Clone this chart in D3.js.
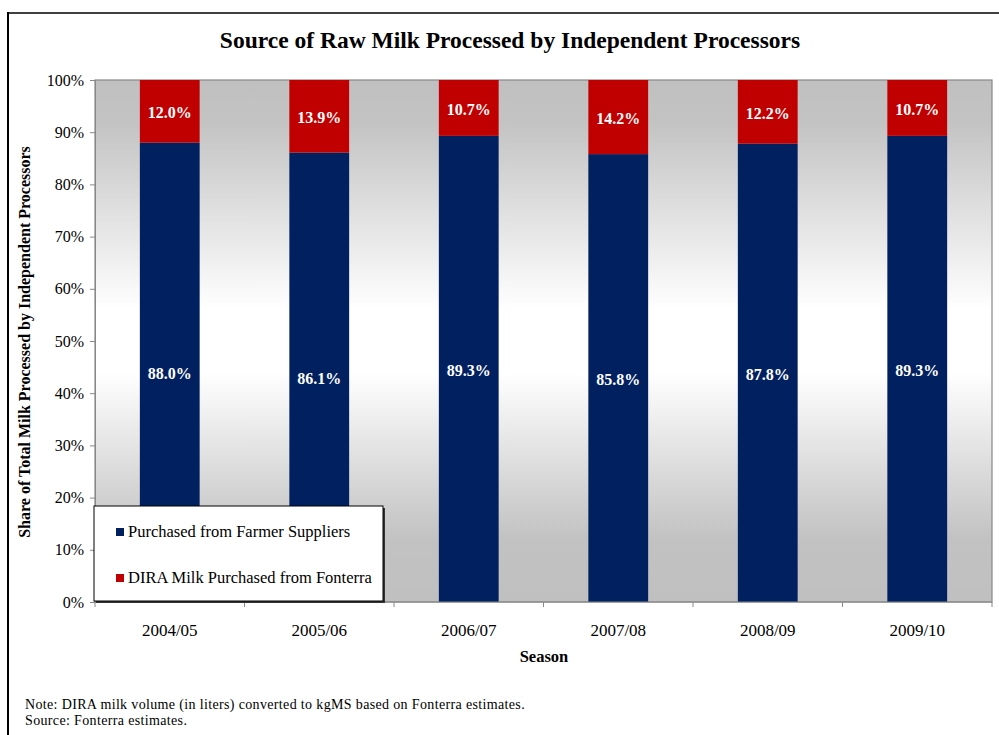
<!DOCTYPE html>
<html>
<head>
<meta charset="utf-8">
<script src="https://cdn.jsdelivr.net/npm/d3@7"></script>
<style>
  html, body { margin: 0; padding: 0; background: #fff; }
  svg { display: block; }
  svg text { font-family: "Liberation Serif", serif; }
</style>
</head>
<body>
<svg id="chart" width="999" height="735"></svg>
<script>
// Seasons and the two sources of milk (percent of total processed)
const seasons = ["2004/05", "2005/06", "2006/07", "2007/08", "2008/09", "2009/10"];
const farmerSuppliers = [88.0, 86.1, 89.3, 85.8, 87.8, 89.3];
const fonterraDira = [12.0, 13.9, 10.7, 14.2, 12.2, 10.7];
const seriesNames = ["Purchased from Farmer Suppliers", "DIRA Milk Purchased from Fonterra"];
const seriesColors = ["#002060", "#c00000"];
const yTicks = [0, 10, 20, 30, 40, 50, 60, 70, 80, 90, 100];

const svg = d3.select("#chart");
const W = 999, H = 735;
const plot = { left: 95, top: 80, right: 992, bottom: 602 };

// Outer frame
svg.append("line").attr("x1", 8).attr("x2", 999).attr("y1", 13).attr("y2", 13)
  .attr("stroke", "#404040").attr("stroke-width", 2);
svg.append("line").attr("x1", 8).attr("x2", 8).attr("y1", 12).attr("y2", H)
  .attr("stroke", "#000").attr("stroke-width", 2);

// Title
svg.append("text").attr("x", 510).attr("y", 48).attr("text-anchor", "middle")
  .attr("font-size", 23.5).attr("font-weight", "bold").text("Source of Raw Milk Processed by Independent Processors");

// Background gradient of the plot area
const defs = svg.append("defs");
const grad = defs.append("linearGradient").attr("id", "bg").attr("x1", 0).attr("y1", 0).attr("x2", 0).attr("y2", 1);
[[0, "#c0c0c0"], [0.08, "#c3c3c3"], [0.44, "#ffffff"], [0.56, "#ffffff"], [0.88, "#c2c2c2"], [1, "#c0c0c0"]]
  .forEach(([o, c]) => grad.append("stop").attr("offset", o).attr("stop-color", c));

const x = d3.scaleBand().domain(seasons).range([plot.left, plot.right]).paddingInner(0.6).paddingOuter(0.3);
const band = d3.scaleBand().domain(seasons).range([plot.left, plot.right]);
const y = d3.scaleLinear().domain([0, 100]).range([plot.bottom, plot.top]);

svg.append("rect").attr("x", plot.left).attr("y", plot.top)
  .attr("width", plot.right - plot.left).attr("height", plot.bottom - plot.top)
  .attr("fill", "url(#bg)").attr("stroke", "#888").attr("stroke-width", 1.2);

// Stacked bars
const rows = seasons.map((s, i) => ({ season: s, farmer: farmerSuppliers[i], dira: fonterraDira[i] }));
const stack = d3.stack().keys(["farmer", "dira"])(rows);

stack.forEach((layer, li) => {
  svg.append("g").selectAll("rect").data(layer).join("rect")
    .attr("x", d => x(d.data.season))
    .attr("width", x.bandwidth())
    .attr("y", d => y(Math.min(d[1], 100)))
    .attr("height", d => y(d[0]) - y(Math.min(d[1], 100)))
    .attr("fill", seriesColors[li]);
  svg.append("g").selectAll("text").data(layer).join("text")
    .attr("x", d => x(d.data.season) + x.bandwidth() / 2)
    .attr("y", d => y((d[0] + Math.min(d[1], 100)) / 2) + 7)
    .attr("text-anchor", "middle").attr("fill", "#fff")
    .attr("font-size", 16).attr("font-weight", "bold")
    .text(d => (d[1] - d[0]).toFixed(1) + "%");
});

// Y axis
const yAxis = svg.append("g").attr("transform", `translate(${plot.left},0)`)
  .call(d3.axisLeft(y).tickValues(yTicks).tickFormat(d => d + "%").tickSize(5).tickPadding(6))
  .attr("font-family", null);
yAxis.select(".domain").attr("stroke", "#888");
yAxis.selectAll(".tick line").attr("stroke", "#888");
yAxis.selectAll(".tick text").attr("font-size", 16).attr("fill", "#000");

// X axis: ticks sit at category boundaries
const xAxisG = svg.append("g").attr("transform", `translate(0,${plot.bottom})`);
xAxisG.append("line").attr("x1", plot.left).attr("x2", plot.right).attr("stroke", "#888").attr("stroke-width", 1.2);
const boundaries = seasons.map(s => band(s)).concat([plot.right]);
xAxisG.selectAll("line.tk").data(boundaries).join("line").attr("class", "tk")
  .attr("x1", d => d).attr("x2", d => d).attr("y1", 0).attr("y2", 5).attr("stroke", "#888");
xAxisG.selectAll("text").data(seasons).join("text")
  .attr("x", d => band(d) + band.bandwidth() / 2).attr("y", 34)
  .attr("text-anchor", "middle").attr("font-size", 17).text(d => d);

// Axis titles
svg.append("text").attr("x", 544).attr("y", 662).attr("text-anchor", "middle")
  .attr("font-size", 16.5).attr("font-weight", "bold").text("Season");
svg.append("text").attr("transform", "translate(30,342) rotate(-90)").attr("text-anchor", "middle")
  .attr("font-size", 16).attr("font-weight", "bold").text("Share of Total Milk Processed by Independent Processors");

// Legend
const lg = svg.append("g").attr("transform", "translate(94,506)");
lg.append("rect").attr("x", 2).attr("y", 2).attr("width", 289).attr("height", 95).attr("fill", "#333");
lg.append("rect").attr("width", 289).attr("height", 95).attr("fill", "#fff").attr("stroke", "#000").attr("stroke-width", 1);
seriesNames.forEach((n, i) => {
  const gy = 26 + i * 46;
  lg.append("rect").attr("x", 22).attr("y", gy - 4).attr("width", 8).attr("height", 8).attr("fill", seriesColors[i]);
  lg.append("text").attr("x", 34).attr("y", gy + 5).attr("font-size", 16.5).text(n);
});

// Notes
svg.append("text").attr("x", 25).attr("y", 709).attr("font-size", 14).attr("letter-spacing", 0.35)
  .text("Note:  DIRA milk volume (in liters)  converted to kgMS based on Fonterra estimates.");
svg.append("text").attr("x", 25).attr("y", 725).attr("font-size", 14).attr("letter-spacing", 0.35)
  .text("Source: Fonterra estimates.");
</script>
</body>
</html>
